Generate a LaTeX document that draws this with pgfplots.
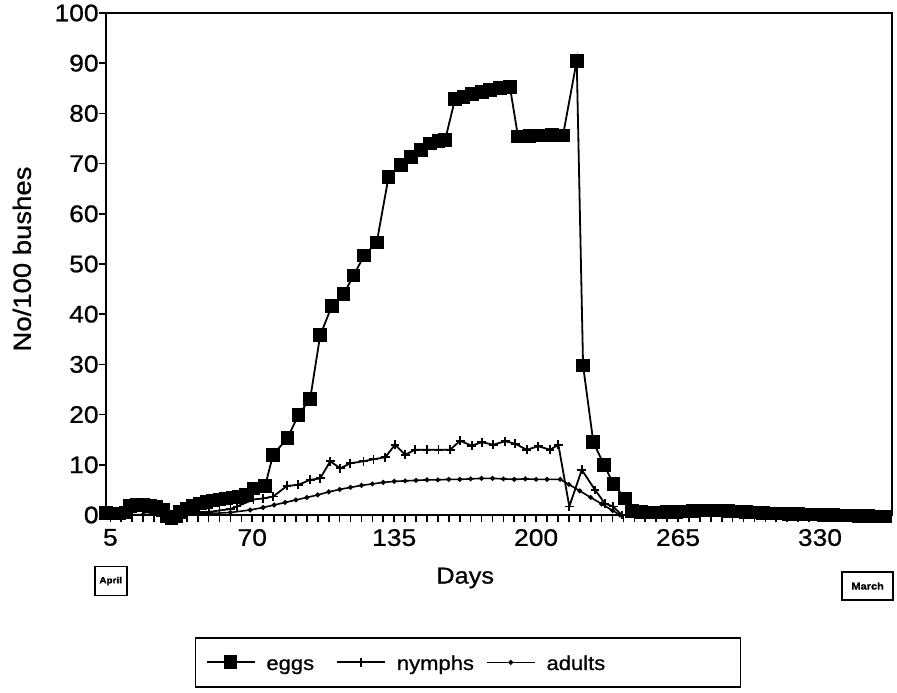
\documentclass[border=0pt]{standalone}
\usepackage{pgfplots}
\pgfplotsset{compat=1.18}
\usepackage{fontspec}
\setmainfont{Liberation Sans}[FakeStretch=1.1, FakeBold=0.8]

\begin{document}
\begin{tikzpicture}
\begin{axis}[
  name=ax,
  scale only axis,
  width=393pt, height=251pt,
  xmin=3, xmax=363, ymin=0, ymax=100,
  xtick={5,70,135,200,265,330},
  minor xtick={5,10,...,360},
  ytick={0,10,...,100},
  tick align=outside, tick pos=left,
  major tick length=3.5pt, minor tick length=3.5pt,
  tick style={black, line width=0.8pt},
  axis line style={line width=1pt},
  ticklabel style={font=\fontsize{12}{14}\selectfont},
  yticklabel style={inner xsep=0pt},
  /pgf/number format/assume math mode=true,
  xlabel={Days}, ylabel={No/100 bushes},
  xlabel style={font=\fontsize{11.5}{14}\selectfont, at={(axis description cs:0.457,-0.1255)}, anchor=center},
  ylabel style={font=\fontsize{12.5}{16}\selectfont, at={(axis description cs:-0.107,0.51)}, anchor=center},
  clip=false,
  legend columns=3,
  legend style={at={(axis description cs:0.113,-0.243)}, anchor=north west,
    draw=black, line width=0.8pt, font=\fontsize{10}{13}\selectfont,
    inner xsep=5pt, inner ysep=5pt,
    /tikz/every odd column/.append style={column sep=3.5pt},
    /tikz/column 2/.style={column sep=9pt},
    /tikz/column 4/.style={column sep=4pt}},
  legend image code/.code={\draw[mark repeat=2,mark phase=2] plot coordinates {(0pt,0pt) (12pt,0pt) (24pt,0pt)};},
]
% eggs
\addplot[black, line width=0.9pt, mark=square*, mark size=3pt] coordinates {
(3,0.4)(6,0.3)(9,0.3)(12,0.5)(14,1.8)(17,2.0)(20,2.0)(23,1.8)(26,1.6)(29,1.0)
(31,-0.3)(33,-0.6)(35,-0.3)(37,0.6)(40,1.3)(43,1.8)(46,2.3)(49,2.6)(52,2.9)(55,3.1)
(58,3.3)(61,3.5)(64,3.6)(67,4.0)(70.6,5.3)(75.9,5.8)(79.5,12)(86.1,15.3)(91.2,20)(96.5,23.1)
(101.1,35.8)(106.5,41.7)(111.8,44)(116.4,47.7)(121.2,51.7)(127,54.3)(132.4,67.3)(138,69.8)
(142.6,71.3)(147.2,72.7)(151.5,74)(155.3,74.5)(158.3,74.7)(162.9,82.9)(166.7,83.3)(170.5,83.8)
(175.1,84.3)(178.9,84.6)(183.5,85.1)(188,85.3)(191.7,75.4)(197,75.5)(202,75.6)(207.3,75.7)
(212.3,75.6)(218.6,90.5)(221.5,29.8)(226.2,14.5)(231.1,10)(235.4,6.2)(240.7,3.3)
(244,0.8)(248,0.6)(252,0.5)(256,0.5)(260,0.6)(264,0.6)(268,0.7)(272,0.8)(276,0.9)(280,0.9)
(284,0.9)(288,0.8)(292,0.7)(296,0.6)(300,0.5)(304,0.4)(308,0.3)(312,0.3)(316,0.2)(320,0.2)
(324,0.1)(328,0.1)(332,0.0)(336,0.0)(340,-0.1)(344,-0.1)(348,-0.2)(352,-0.2)(356,-0.3)(360,-0.3)};
\addlegendentry{\strut eggs}
% nymphs
\addplot[black, line width=0.9pt, mark=+, mark size=2.2pt] coordinates {
(3,0)(10,0)(20,0)(30,0.2)(40,0.4)(45,0.6)(50,0.6)(55,0.9)(60,1.2)(63,1.7)(70.6,3.1)(75,3.3)
(79.6,3.7)(85.9,5.8)(91,6)(96.5,7)(101.1,7.3)(105.7,10.7)(110.3,9.3)(114.8,10.3)(120.9,10.7)
(125.5,11.1)(130.9,11.5)(135.4,14)(140,12)(144.6,13)(149.9,13)(155.3,13)(160.6,13)(165.2,14.8)
(170.5,13.8)(175.1,14.5)(180.4,14)(185.8,14.7)(190.4,14.2)(195.7,13)(201,13.7)(206.4,13)
(210.2,14)(215.2,1.7)(220.9,9)(227,5)(231.5,2.3)(235.3,1.7)(239.2,0)(250,0.1)(265,0.2)
(280,0.3)(295,0.2)(310,0.1)(325,0)(340,0)(361,0)};
\addlegendentry{\strut nymphs}
% adults
\addplot[black, line width=0.8pt, mark=*, mark size=0.8pt] coordinates {
(3,0)(10,0)(20,0.1)(30,0.1)(40,0.2)(50,0.3)(60,0.5)(69,1.0)(75,1.5)(80,2.0)(85,2.5)(90,3.0)
(95,3.5)(100,4.0)(105,4.6)(110,5.1)(115,5.5)(120,5.9)(125,6.2)(130,6.5)(135,6.7)(140,6.8)
(145,6.9)(150,7.0)(155,7.0)(160,7.1)(165,7.1)(170,7.2)(175,7.3)(180,7.3)(185,7.2)(190,7.1)
(195,7.2)(200,7.1)(205,7.1)(211,7.1)(215,6.1)(220,4.8)(225,3.5)(230,2.2)(235,0.9)(238.4,0)
(250,0.1)(265,0.2)(280,0.3)(295,0.2)(310,0.1)(325,0)(340,0)(361,0)};
\addlegendentry{\makebox[90pt][l]{\strut adults}}
\node[draw, line width=0.9pt, minimum width=16pt, minimum height=14.5pt, inner sep=1pt,
  font=\bfseries\fontsize{4.5}{6}\selectfont, yshift=-33pt] at (rel axis cs:0.006,0) {April};
\node[draw, line width=0.9pt, minimum width=25.5pt, minimum height=14pt, inner sep=1pt,
  font=\bfseries\fontsize{5}{6}\selectfont, yshift=-35.5pt] at (rel axis cs:0.969,0) {March};
\end{axis}
\pgfresetboundingbox
\path ([shift={(-53pt,-88.5pt)}]ax.south west) rectangle ([shift={(2.5pt,6.5pt)}]ax.north east);
\end{tikzpicture}
\end{document}
